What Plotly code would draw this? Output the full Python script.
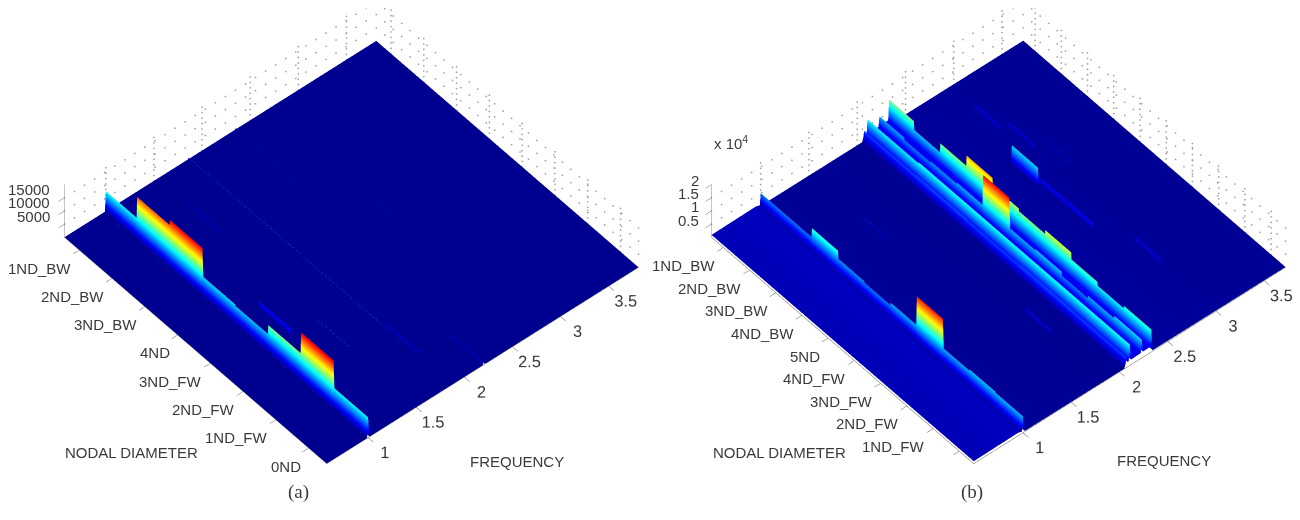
import numpy as np
import plotly.graph_objects as go

# Panel (a)
nd_labels_a = ["0ND", "1ND_FW", "2ND_FW", "3ND_FW", "4ND", "3ND_BW", "2ND_BW", "1ND_BW"]
freq_range_a = [0.57, 3.81]
z_ticks_a = [5000, 10000, 15000]
z_text_a = ["5000", "10000", "15000"]
main_ridge_a = [7700, 18000, 10000, 6500, 7000, 17700, 15700, 7600]
side_ridges_a = [
    (1.25, {3: 2500}),
    (1.5, {2: 700}),
    (1.54, {6: 1000}),
    (1.86, {2: 500, 3: 500, 4: 500, 5: 500, 6: 500, 7: 500}),
    (1.88, {1: 1500}),
    (2.2, {0: 1000}),
    (2.35, {6: 400, 7: 400}),
    (2.7, {4: 400}),
]
floor_f_a = [0.57, 3.81]
floor_v_a = [60, 60]

# Panel (b)
nd_labels_b = [" ", "1ND_FW", "2ND_FW", "3ND_FW", "4ND_FW", "5ND", "4ND_BW", "3ND_BW", "2ND_BW", "1ND_BW"]
freq_range_b = [0.49, 3.72]
z_ticks_b = [0.5, 1, 1.5, 2]
z_text_b = ["0.5", "1", "1.5", "2"]
ridge_100 = [6200, 6500, 6000, 17000, 6000, 5000, 5500, 8500, 5000, 5000]
ridge_207 = [4000, 4000, 4200, 4200, 4000, 4000, 4200, 4200, 4000, 4000]
ridge_211 = [8000, 8000, 8000, 8000, 8000, 8000, 8000, 8000, 7500, 7500]
ridge_223 = [7000, 6000, 5000, 6500, 6000, 17500, 6000, 5500, 5000, 5800]
ridge_233 = [8500, 7500, 8900, 11500, 10000, 11000, 14000, 10000, 6500, 9800]
side_ridges_b = [
    (1.52, {7: 900}),
    (1.85, {2: 1800}),
    (2.8, {6: 7000}),
    (2.83, {4: 2500, 5: 2500}),
    (2.96, {8: 1800}),
    (3.0, {2: 1800}),
    (3.04, {7: 1800}),
    (3.15, {6: 1000}),
]
floor_f_b = [0.49, 0.7, 0.95, 1.03, 2.05, 2.065, 2.34, 2.345, 3.72]
floor_v_b = [900, 1000, 1100, 200, 100, 1800, 2200, 300, 150]
ridges_b = [
    (1.0, dict(enumerate(ridge_100))),
    (2.07, dict(enumerate(ridge_207))),
    (2.106, dict(enumerate(ridge_211))),
    (2.23, dict(enumerate(ridge_223))),
    (2.33, dict(enumerate(ridge_233))),
] + side_ridges_b
ridges_a = [(1.0, dict(enumerate(main_ridge_a)))] + side_ridges_a

matlab_jet = [[0, "rgb(0,0,143)"], [0.125, "rgb(0,0,255)"], [0.375, "rgb(0,255,255)"],
              [0.625, "rgb(255,255,0)"], [0.875, "rgb(255,0,0)"], [1, "rgb(128,0,0)"]]


def surface_grid(ridges, frange, n_nd, floor_f, floor_v, scale=1.0):
    df = 0.01
    fs = set(frange) | set(floor_f)
    for f, _ in ridges:
        fs |= {f - df, f, f + df * 1.5}
    fs = np.array(sorted(fs))
    ys = [-0.55]
    for k in range(n_nd):
        if k > 0:
            ys.append(k - 0.5 + 0.004)
        ys.append(k + 0.5 - 0.004 if k < n_nd - 1 else n_nd - 0.55)
    ys = np.array(ys)
    z = np.tile(np.interp(fs, floor_f, floor_v) * scale, (len(ys), 1))
    for f, vals in ridges:
        i = int(np.argmin(abs(fs - f)))
        for j, y in enumerate(ys):
            k = int(np.clip(round(y), 0, n_nd - 1))
            z[j, i] = max(z[j, i], vals.get(k, 0) * scale)
    return fs, ys, z


def wall_dots(frange, ymax, ftks, ytks, ztks, ztop):
    xs, ys, zs = [], [], []
    def seg(a, b, n):
        t = np.linspace(0, 1, n)
        xs.extend(a[0] + (b[0] - a[0]) * t); ys.extend(a[1] + (b[1] - a[1]) * t); zs.extend(a[2] + (b[2] - a[2]) * t)
    for zt in ztks:
        seg((frange[0], ymax, zt), (frange[1], ymax, zt), 32)
        seg((frange[1], -0.55, zt), (frange[1], ymax, zt), 32)
    for f in ftks:
        seg((f, ymax, 0), (f, ymax, ztop), 9)
    for y in ytks:
        seg((frange[1], y, 0), (frange[1], y, ztop), 9)
    return xs, ys, zs


freq_ticks = [1, 1.5, 2, 2.5, 3, 3.5]
freq_text = ["1", "1.5", "2", "2.5", "3", "3.5"]
fig = go.Figure()

fa, ya, za = surface_grid(ridges_a, freq_range_a, len(nd_labels_a), floor_f_a, floor_v_a)
fb, yb, zb = surface_grid(ridges_b, freq_range_b, len(nd_labels_b), floor_f_b, floor_v_b, scale=1e-4)
flat = dict(ambient=1, diffuse=0, specular=0, fresnel=0, roughness=1)
fig.add_trace(go.Surface(x=fa, y=ya, z=za, colorscale=matlab_jet, cmin=0, cmax=20000, showscale=False,
                         lighting=flat, scene="scene", hoverinfo="skip"))
fig.add_trace(go.Surface(x=fb, y=yb, z=zb, colorscale=matlab_jet, cmin=0, cmax=2, showscale=False,
                         lighting=flat, scene="scene2", hoverinfo="skip"))

dot = dict(color="#a0a0a0", size=1, line=dict(width=0))
gx, gy, gz = wall_dots(freq_range_a, 7.45, freq_ticks, range(8), z_ticks_a, 16500)
fig.add_trace(go.Scatter3d(x=gx, y=gy, z=gz, mode="markers", scene="scene", hoverinfo="skip", showlegend=False, marker=dot))
gx, gy, gz = wall_dots(freq_range_b, 9.45, freq_ticks, range(10), z_ticks_b[:3], 1.65)
fig.add_trace(go.Scatter3d(x=gx, y=gy, z=gz, mode="markers", scene="scene2", hoverinfo="skip", showlegend=False, marker=dot))

tick_font = dict(family="Liberation Sans", size=14, color="#3a3a3a")
label_font = dict(family="Liberation Sans", size=15, color="#3a3a3a")


def axis(rng, tickvals, ticktext, show_labels=True):
    return dict(range=rng, autorange=False, title=dict(text=""), tickmode="array", tickvals=tickvals,
                ticktext=ticktext, showticklabels=show_labels,
                showgrid=False, zeroline=False, showbackground=False, showspikes=False,
                showline=True, linecolor="#666666", linewidth=1, ticks="outside", ticklen=8,
                tickcolor="#666666", tickfont=tick_font, tickangle=0)


theta, elev = np.radians(40.5), np.radians(47.5)
view = np.array([-np.sin(theta) * np.cos(elev), -np.cos(theta) * np.cos(elev), np.sin(elev)])
right = np.array([np.cos(theta), -np.sin(theta), 0])
upv = np.array([np.sin(theta) * np.sin(elev), np.cos(theta) * np.sin(elev), np.cos(elev)])
D = 2.5


def camera(dx, dy):
    c = -right * dx / 260 + upv * dy / 260
    e = c + view * D
    return dict(eye=dict(x=e[0], y=e[1], z=e[2]), center=dict(x=c[0], y=c[1], z=c[2]), up=dict(x=0, y=0, z=1),
                projection=dict(type="orthographic"))


k = 1.577
aspect = dict(x=1 * k, y=0.985 * k, z=0.19 * k)


def scene_labels(frange, ymax, ztks, ztxt, zxs, zys, nd_labels):
    out = [dict(x=frange[0], y=ymax, z=t, text=s, showarrow=False, xanchor="right", yanchor="middle",
                xshift=zxs, yshift=zys, font=label_font) for t, s in zip(ztks, ztxt)]
    out += [dict(x=frange[0], y=i, z=0, text=s, showarrow=False, xanchor="right", yanchor="middle",
                 xshift=-6, yshift=-18, font=label_font) for i, s in enumerate(nd_labels) if s.strip()]
    return out


fig.update_layout(
    width=1300, height=520, paper_bgcolor="white", showlegend=False,
    margin=dict(l=0, r=0, t=0, b=0),
    scene=dict(domain=dict(x=[0, 0.5285], y=[0, 1]), camera=camera(0, -42), aspectmode="manual", aspectratio=aspect,
               xaxis=axis(freq_range_a, freq_ticks, freq_text),
               yaxis=axis([-0.55, 7.45], list(range(8)), nd_labels_a, show_labels=False),
               zaxis=axis([0, 20000], z_ticks_a, z_text_a, show_labels=False),
               annotations=scene_labels(freq_range_a, 7.45, z_ticks_a, z_text_a, -12, 8, nd_labels_a)),
    scene2=dict(domain=dict(x=[0.49, 1], y=[0, 1]), camera=camera(22, -42), aspectmode="manual", aspectratio=aspect,
                xaxis=axis(freq_range_b, freq_ticks, freq_text),
                yaxis=axis([-0.55, 9.45], list(range(10)), nd_labels_b, show_labels=False),
                zaxis=axis([0, 2], z_ticks_b, z_text_b, show_labels=False),
                annotations=scene_labels(freq_range_b, 9.45, z_ticks_b, z_text_b, -10, 4, nd_labels_b)),
)


def note(text, px, py, size=15, family="Liberation Sans"):
    # the page body adds an 8 px margin around the figure
    fig.add_annotation(text=text, xref="paper", yref="paper", x=(px - 8) / 1300, y=1 - (py - 8) / 520, showarrow=False,
                       xanchor="center", yanchor="middle", font=dict(family=family, size=size, color="#3a3a3a"))


note("NODAL DIAMETER", 131, 452)
note("FREQUENCY", 517, 461)
note("NODAL DIAMETER", 779, 452)
note("FREQUENCY", 1164, 460)
note("x 10<sup>4</sup>", 731, 143)
note("(a)", 298, 492, 19, "Liberation Serif")
note("(b)", 972, 492, 19, "Liberation Serif")

fig.write_html("out.html")
